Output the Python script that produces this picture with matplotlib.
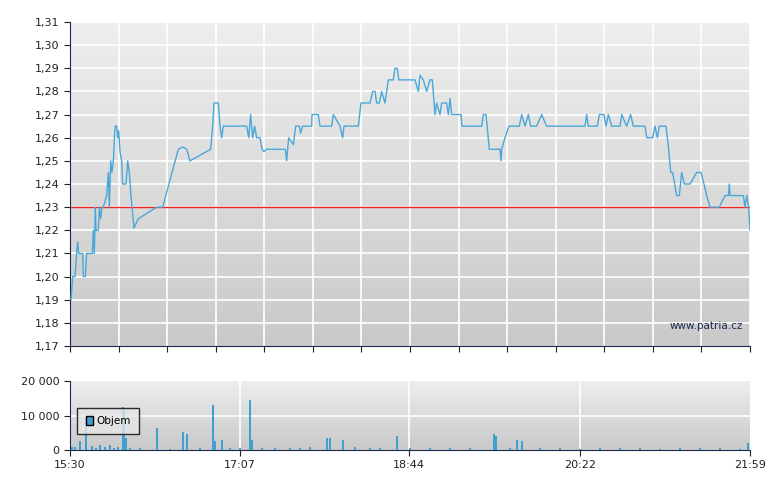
import matplotlib
matplotlib.use("Agg")
import matplotlib.pyplot as plt
import numpy as np
from matplotlib.colors import LinearSegmentedColormap

# price trace: (pixel-x -> minutes after 15:30, price)
z1 = [(33,1.19),(38,1.20),(45,1.20),(50,1.21),(53,1.215),(56,1.21),(68,1.21),(70,1.20),(76,1.20),(80,1.21),
      (97,1.21),(100,1.22),(103,1.21),(106,1.23),(108,1.22),(115,1.22),(118,1.23),(122,1.225),(126,1.23),(130,1.23),
      (140,1.235),(145,1.245),(148,1.23),(152,1.25),(156,1.245),(160,1.25),(165,1.265),(170,1.265),(173,1.26),
      (176,1.263),(180,1.254),(185,1.25),(188,1.24),(198,1.24),(203,1.25),(208,1.245),(213,1.235),(222,1.221),
      (235,1.225),(290,1.23),(308,1.23),(355,1.255),(368,1.256),(380,1.255),(390,1.25),(452,1.255),(458,1.265),
      (462,1.275),(475,1.275),(480,1.265),(485,1.26),(490,1.265),(560,1.265),(566,1.26),(572,1.27),(578,1.26),
      (584,1.265),(590,1.26),(600,1.26),(606,1.255),(612,1.254),(620,1.255),(676,1.255),(680,1.25),(686,1.26),
      (700,1.257),(707,1.265),(718,1.265),(722,1.262),(728,1.265),(755,1.265),(756,1.27),(775,1.27),(780,1.265),
      (815,1.265),(820,1.27),(828,1.268),(840,1.265),(848,1.26),(852,1.265),(895,1.265),(903,1.275),(930,1.275),
      (938,1.28),(945,1.28),(950,1.275),(958,1.275),(965,1.28),(975,1.275),(985,1.285),(1000,1.285),(1005,1.29),
      (1012,1.29),(1016,1.285)]
z2 = [(0,1.285),(45,1.285),(55,1.28),(60,1.287),(70,1.285),(80,1.28),(90,1.285),(97,1.285),(105,1.27),(110,1.275),
      (120,1.27),(125,1.275),(140,1.275),(145,1.27),(150,1.277),(155,1.27),(183,1.27),(186,1.265),(245,1.265),
      (250,1.27),(258,1.27),(268,1.255),(300,1.255),(303,1.25),(305,1.255),(315,1.26),(327,1.265),(358,1.265),
      (365,1.27),(375,1.265),(385,1.27),(392,1.265),(410,1.265),(425,1.27),(440,1.265),(555,1.265),(560,1.27),
      (565,1.265),(592,1.265),(598,1.27),(612,1.27),(618,1.265),(625,1.27),(635,1.265),(660,1.265),(665,1.27),
      (680,1.265),(692,1.27),(700,1.265),(735,1.265),(740,1.26),(758,1.26),(765,1.265),(772,1.26),(778,1.265),
      (798,1.265),(806,1.255),(812,1.245),(818,1.245),(830,1.235),(838,1.235),(845,1.245),(853,1.24),(870,1.24),
      (890,1.245),(903,1.245),(912,1.24),(920,1.235),(930,1.23),(958,1.23),(975,1.235),(985,1.235),(988,1.24),
      (990,1.235),(1030,1.235),(1035,1.23),(1040,1.235),(1046,1.23),(1050,1.22)]
px = [z/3+60 for z,_ in z1] + [z/3+400 for z,_ in z2]
price = [p for _,p in z1] + [p for _,p in z2]
minutes = [(p-70)*389/680 for p in px]

ref_price = 1.23

vol_px = [72,75,80,86,92,96,100,105,110,114,118,123,124,126,130,140,157,170,183,187,200,213,215,222,230,
          240,250,252,262,275,290,300,310,327,330,343,355,370,380,397,410,430,450,470,494,496,510,517,522,
          540,560,580,600,620,640,660,680,700,720,740,748]
volumes = [1000,800,2500,9000,1200,600,1500,800,1400,700,1000,12500,12000,3500,600,500,6500,400,5200,4500,
           500,13000,2500,2800,600,700,14500,3000,500,600,700,500,800,3500,3500,2800,800,600,700,4000,
           500,600,700,500,4500,4200,500,3000,2500,600,500,400,500,600,500,400,500,600,500,400,2000]
vol_min = [(p-70)*389/680 for p in vol_px]

tick_pos = [0, 97, 194, 292, 389]
tick_labels = ["15:30", "17:07", "18:44", "20:22", "21:59"]

fig = plt.figure(figsize=(7.8, 4.9), dpi=100)
navy = "#1a2a50"
cmap = LinearSegmentedColormap.from_list("g", ["#c9c9c9", "#eeeeee"])

def bg(ax, ylo, yhi):
    grad = np.linspace(0, 1, 100).reshape(-1, 1)
    ax.imshow(grad, aspect="auto", cmap=cmap, origin="lower",
              extent=[0, 389, ylo, yhi], zorder=0)

ax = fig.add_axes([70/780, 1-346/490, 680/780, 324/490])
bg(ax, 1.17, 1.31)
ax.set_xlim(0, 389); ax.set_ylim(1.17, 1.31)
for g in np.linspace(0, 389, 15):
    ax.axvline(g, color="white", lw=1.2, zorder=1)
for g in np.arange(1.18, 1.31, 0.01):
    ax.axhline(g, color="white", lw=1.2, zorder=1)
ax.axhline(ref_price, color="#ee2222", lw=1, zorder=2)
ax.plot(minutes, price, color="#4aa8d8", lw=1.0, zorder=3)
ax.set_yticks(np.round(np.arange(1.17, 1.315, 0.01), 2))
ax.set_yticklabels([f"{v:.2f}".replace(".", ",") for v in np.arange(1.17, 1.315, 0.01)])
ax.set_xticks(np.linspace(0, 389, 15)); ax.set_xticklabels([])
ax.tick_params(labelsize=8, colors="#222222", length=4)
for s in ["top", "right"]: ax.spines[s].set_visible(False)
for s in ["left", "bottom"]: ax.spines[s].set_color(navy)
ax.text(385, 1.1785, "www.patria.cz", ha="right", va="center", fontsize=7.5, color=navy, zorder=4)

av = fig.add_axes([70/780, 40/490, 680/780, 69/490])
bg(av, 0, 20000)
av.set_xlim(0, 389); av.set_ylim(0, 20000)
for g in tick_pos[1:4]:
    av.axvline(g, color="white", lw=1.2, zorder=1)
av.axhline(10000, color="white", lw=1.2, zorder=1)
av.bar(vol_min, volumes, width=0.9, color="#3fa0d0", zorder=3)
av.set_xticks(tick_pos); av.set_xticklabels(tick_labels)
av.set_yticks([0, 10000, 20000]); av.set_yticklabels(["0", "10 000", "20 000"])
av.tick_params(labelsize=8, colors="#222222", length=4)
for s in ["top", "right"]: av.spines[s].set_visible(False)
for s in ["left", "bottom"]: av.spines[s].set_color(navy)
leg = av.legend([plt.Rectangle((0, 0), 1, 1, fc="#3fa0d0", ec="black")], ["Objem"],
                loc="upper left", bbox_to_anchor=(0.003, 0.69), fontsize=7.5, frameon=True,
                fancybox=False, handlelength=0.7, handleheight=0.9, borderpad=0.8, handletextpad=0.3)
leg.get_frame().set_edgecolor("black"); leg.get_frame().set_facecolor("#e6e6e6")

fig.savefig("out.png", dpi=100, facecolor="white")
